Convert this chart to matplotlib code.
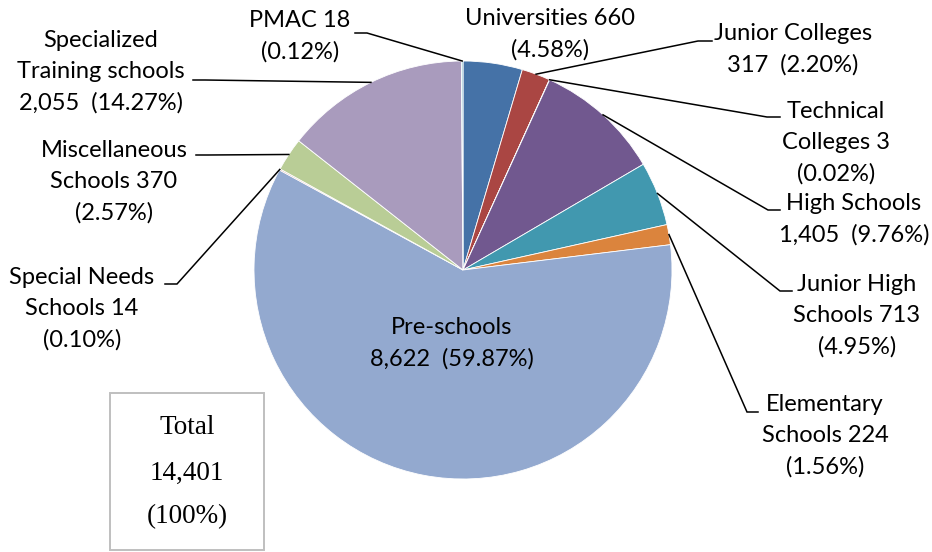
import matplotlib
matplotlib.use("Agg")
import matplotlib.pyplot as plt
import numpy as np
from matplotlib.patches import Rectangle

# ---- data ----
categories = ["Universities", "Junior Colleges", "Technical Colleges", "High Schools",
              "Junior High Schools", "Elementary Schools", "Pre-schools",
              "Special Needs Schools", "Miscellaneous Schools",
              "Specialized Training schools", "PMAC"]
counts = [660, 317, 3, 1405, 713, 224, 8622, 14, 370, 2055, 18]
label_templates = ["Universities {v}\n({p})", "Junior Colleges\n{v}  ({p})",
                   "Technical\nColleges {v}\n({p})", "High Schools\n{v}  ({p})",
                   "Junior High\nSchools {v}\n({p})", "Elementary\nSchools {v}\n({p})",
                   "Pre-schools\n{v}  ({p})", "Special Needs\nSchools {v}\n({p})",
                   "Miscellaneous\nSchools {v}\n({p})",
                   "Specialized\nTraining schools\n{v}  ({p})", "PMAC {v}\n({p})"]
colors = ["#4572A7", "#AA4643", "#89A54E", "#71588F", "#4198AF", "#DB843D",
          "#93A9CF", "#D19392", "#B9CD96", "#A99BBD", "#91C3D5"]

total = sum(counts)

W, H = 932, 552
fig = plt.figure(figsize=(W / 100, H / 100), dpi=100)
ax = fig.add_axes([0, 0, 1, 1])

def Y(y):
    return H - y

cx, cy, R = 463, 270, 209
ax.pie(counts, colors=colors, startangle=90, counterclock=False,
       center=(cx, Y(cy)), radius=R,
       wedgeprops=dict(edgecolor="white", linewidth=0.6))
ax.set_xlim(0, W)
ax.set_ylim(0, H)
ax.set_aspect("auto")
ax.axis("off")

# layout: label block centers (x, y from top) and leader line start/elbow
label_pos = [(550, 34), (793, 49), (836, 143), (854, 219), (857, 316), (825, 436),
             (452, 343), (82, 309), (114, 182), (101, 72), (300, 36)]
leaders = {1: ((712, 41), (698, 41)),
           2: ((780, 117), (767, 117)),
           3: ((780, 210), (768, 210)),
           4: ((792, 291), (780, 291)),
           5: ((758, 412), (747, 412)),
           7: ((165, 284), (177, 284)),
           8: ((196, 155), (208, 155)),
           9: ((193, 80), (205, 80)),
           10: ((355, 33), (367, 33))}

fracs = np.array(counts) / total
cum = np.concatenate([[0], np.cumsum(fracs)])
font = "Lato"
for i, (cat, v) in enumerate(zip(categories, counts)):
    p = "{:.2f}%".format(v / total * 100)
    txt = label_templates[i].format(v="{:,}".format(v), p=p)
    lx, ly = label_pos[i]
    ax.text(lx, Y(ly), txt, ha="center", va="center", fontsize=17,
            family=font, linespacing=1.58, color="black")
    if i in leaders:
        mid = (cum[i] + cum[i + 1]) / 2
        ang = np.deg2rad(90 - mid * 360)
        ex, ey = cx + R * np.cos(ang), Y(cy) + R * np.sin(ang)
        (sx, sy), (kx, ky) = leaders[i]
        ax.plot([sx, kx, ex], [Y(sy), Y(ky), ey], color="black", lw=1.1,
                solid_joinstyle="miter")

# total box
ax.add_patch(Rectangle((110, Y(550)), 154, 157, facecolor="white",
                       edgecolor="#BFBFBF", lw=1.4))
serif = "Liberation Serif"
ax.text(187, Y(428), "Total", ha="center", va="center", fontsize=19.5,
        family=serif)
ax.text(187, Y(473), "{:,}".format(total), ha="center", va="center", fontsize=19.5,
        family=serif)
ax.text(187, Y(517), "(100%)", ha="center", va="center", fontsize=19.5,
        family=serif)

fig.savefig("out.png", dpi=100, facecolor="white")
